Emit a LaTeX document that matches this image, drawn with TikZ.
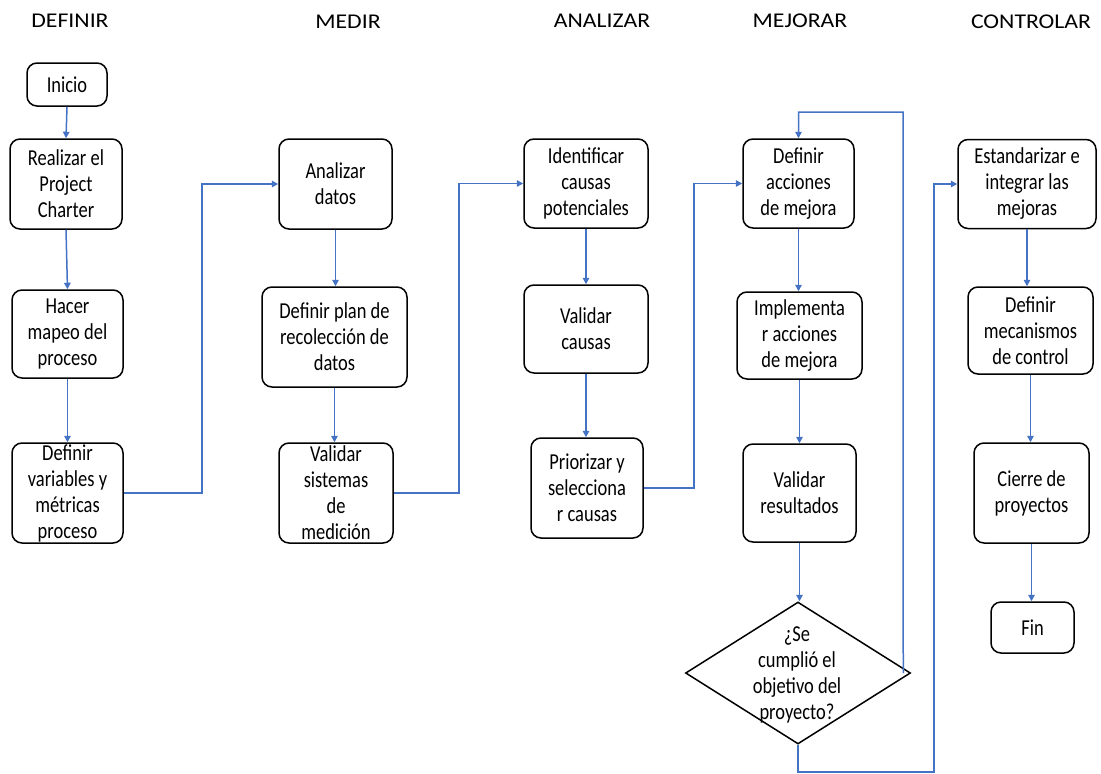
\documentclass[tikz,border=0pt]{standalone}
\usepackage{fontspec}
\setmainfont{Carlito}
\newfontfamily\boxfont{Carlito}[FakeStretch=0.81]
\newfontfamily\titlefont{Carlito}[FakeStretch=1.13]
\usetikzlibrary{shapes.geometric,arrows.meta}
\definecolor{connblue}{HTML}{4472C4}
\begin{document}
\begin{tikzpicture}[x=1pt,y=-1pt,
  stepbox/.style={draw=black,line width=1.5pt,rounded corners=10pt,inner sep=0pt,align=center,
    font=\boxfont\fontsize{22.8}{26}\selectfont},
  decision/.style={draw=black,line width=1.5pt,diamond,inner sep=0pt},
  phase/.style={font=\titlefont\fontsize{21}{26}\selectfont,inner sep=0pt},
  conn/.style={draw=connblue,line width=1.5pt,-{Triangle[width=6.5pt,length=6.5pt]}},
  txt/.style={align=center,inner sep=0pt,font=\boxfont\fontsize{22.8}{26}\selectfont}]
\useasboundingbox (0,0) rectangle (1101,774);
% phase titles
\node[phase] (tdef) at (70,21) {DEFINIR};
\node[phase] (tmed) at (348,22) {MEDIR};
\node[phase] (tana) at (602,21) {ANALIZAR};
\node[phase] (tmej) at (800,21) {MEJORAR};
\node[phase] (tcon) at (1031,22) {CONTROLAR};
% DEFINIR
\node[stepbox,minimum width=80pt,minimum height=43pt] (inicio) at (67,84.5) {Inicio};
\node[stepbox,minimum width=112pt,minimum height=90pt] (charter) at (66,184) {Realizar el\\Project\\Charter};
\node[stepbox,minimum width=111pt,minimum height=88pt] (mapeo) at (67.5,334) {Hacer\\mapeo del\\proceso};
\node[stepbox,minimum width=111pt,minimum height=100pt] (defvar) at (67.5,493) {Definir\\variables y\\métricas\\proceso};
% MEDIR
\node[stepbox,minimum width=113pt,minimum height=90pt] (analiza) at (335.5,184) {Analizar\\datos};
\node[stepbox,minimum width=145pt,minimum height=100pt] (defplan) at (334.5,337) {Definir plan de\\recolección de\\datos};
\node[stepbox,minimum width=114pt,minimum height=100pt] (valsis) at (336,493) {Validar\\sistemas\\de\\medición};
% ANALIZAR
\node[stepbox,minimum width=124pt,minimum height=89pt] (ident) at (586,183.5) {Identificar\\causas\\potenciales};
\node[stepbox,minimum width=124pt,minimum height=88pt] (valcau) at (586,329) {Validar\\causas};
\node[stepbox,minimum width=112pt,minimum height=100pt] (prior) at (587,488) {Priorizar y\\selecciona\\r causas};
% MEJORAR
\node[stepbox,minimum width=111pt,minimum height=89pt] (defacc) at (798.5,183.5) {Definir\\acciones\\de mejora};
\node[stepbox,minimum width=125pt,minimum height=87pt] (impl) at (799.5,335.5) {Implementa\\r acciones\\de mejora};
\node[stepbox,minimum width=113pt,minimum height=98pt] (valres) at (799.5,493) {Validar\\resultados};
\node[decision,minimum width=225pt,minimum height=142pt] (dia) at (798,673) {};
\node[txt] (diatxt) at (797,675) {¿Se\\cumplió el\\objetivo del\\proyecto?};
% CONTROLAR
\node[stepbox,minimum width=138pt,minimum height=89pt] (estand) at (1027,184) {Estandarizar e\\integrar las\\mejoras};
\node[stepbox,minimum width=125pt,minimum height=87pt] (mecan) at (1030.5,330.5) {Definir\\mecanismos\\de control};
\node[stepbox,minimum width=115pt,minimum height=100pt] (cierre) at (1031.5,493) {Cierre de\\proyectos};
\node[stepbox,minimum width=83pt,minimum height=51pt] (fin) at (1032.5,627.5) {Fin};
% coordinates
\coordinate (fbtop) at (903,112);
\coordinate (lowb) at (934,772);
% connectors
\draw[conn] (inicio.south) -- (charter.north);
\draw[conn] (charter.south) -- (mapeo.north);
\draw[conn] (mapeo.south) -- (defvar.north);
\draw[conn] (defvar.east) -- ++(78,0) |- (analiza.west);
\draw[conn] (analiza.south) -- (analiza.south |- defplan.north);
\draw[conn] (defplan.south) -- (defplan.south |- valsis.north);
\draw[conn] (valsis.east) -- ++(65,0) |- (ident.west);
\draw[conn] (ident.south) -- (valcau.north);
\draw[conn] (valcau.south) -- (valcau.south |- prior.north);
\draw[conn] (prior.east) -- ++(50,0) |- (defacc.west);
\draw[conn] (defacc.south) -- (defacc.south |- impl.north);
\draw[conn] (impl.south) -- (impl.south |- valres.north);
\draw[conn] (valres.south) -- (valres.south |- dia.north);
\draw[conn] ([xshift=-8pt]dia.east) -- (fbtop) -| (defacc.north);
\draw[conn] (dia.south) |- (lowb) |- (estand.west);
\draw[conn] (estand.south) -- (estand.south |- mecan.north);
\draw[conn] (mecan.south) -- (mecan.south |- cierre.north);
\draw[conn] (cierre.south) -- (cierre.south |- fin.north);
\end{tikzpicture}
\end{document}
